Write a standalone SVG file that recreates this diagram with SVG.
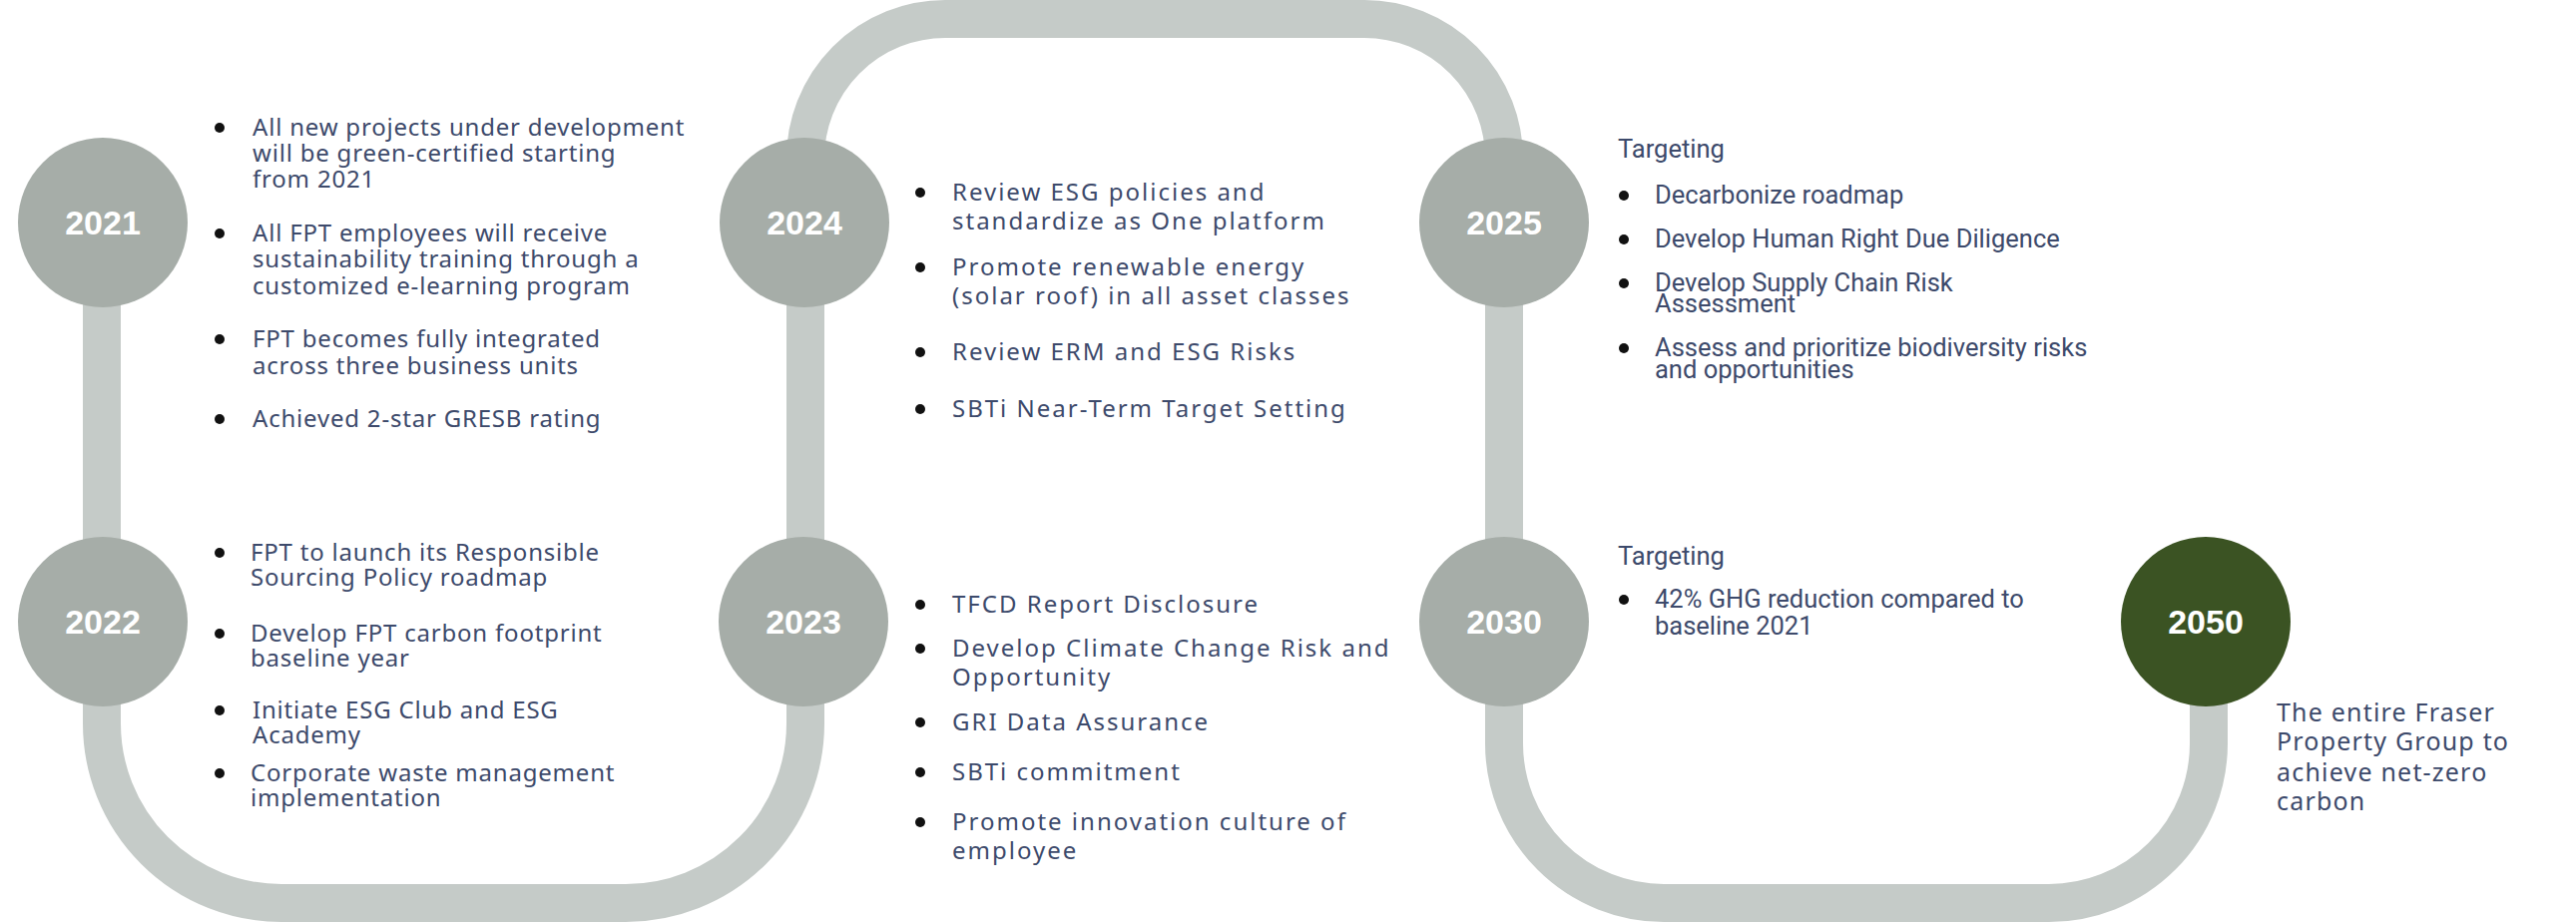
<svg xmlns="http://www.w3.org/2000/svg" width="2581" height="925" viewBox="0 0 2581 925">
<style>
.trk{fill:none;stroke:#c5cbc8;stroke-width:38}
.c{fill:#a6ada8}
.y{fill:#fff;font-family:"Liberation Sans",Arial,sans-serif;font-weight:bold;font-size:34px;text-anchor:middle}
.a{fill:#3d4a6b;font-family:"Noto Sans",sans-serif;font-size:24px;letter-spacing:0.8px}
.b{fill:#3d4a6b;font-family:"Noto Sans",sans-serif;font-size:24px;letter-spacing:2px}
.r{fill:#3d4a6b;font-family:Roboto,"Noto Sans",sans-serif;font-size:25.5px}
.w{fill:#3d4a6b;font-family:"Noto Sans",sans-serif;font-size:25px;letter-spacing:1.2px}
.d{fill:#111}
</style>
<g id="connectors">
<path class="trk" d="M102,223 V725 A180,180 0 0 0 282,905 H627 A180,180 0 0 0 807,725 V160 A140,140 0 0 1 947,19 H1367 A140,140 0 0 1 1507,160 V745 A160,160 0 0 0 1667,905 H2053 A160,160 0 0 0 2213,745 V623"/>
</g>
<g id="n2021"><circle class="c" cx="103" cy="223" r="85"/><text class="y" x="103" y="235">2021</text>
<g class="d"><circle cx="220" cy="128" r="5"/><circle cx="220" cy="234" r="5"/><circle cx="220" cy="340" r="5"/><circle cx="220" cy="420" r="5"/></g>
<text class="a"><tspan x="253" y="136">All new projects under development</tspan><tspan x="253" y="162">will be green-certified starting</tspan><tspan x="253" y="188">from 2021</tspan><tspan x="253" y="242">All FPT employees will receive</tspan><tspan x="253" y="268">sustainability training through a</tspan><tspan x="253" y="295">customized e-learning program</tspan><tspan x="253" y="348">FPT becomes fully integrated</tspan><tspan x="253" y="375">across three business units</tspan><tspan x="253" y="428">Achieved 2-star GRESB rating</tspan></text></g>
<g id="n2022"><circle class="c" cx="103" cy="623" r="85"/><text class="y" x="103" y="635">2022</text>
<g class="d"><circle cx="220" cy="554" r="5"/><circle cx="220" cy="635" r="5"/><circle cx="220" cy="712" r="5"/><circle cx="220" cy="775" r="5"/></g>
<text class="a"><tspan x="251" y="562">FPT to launch its Responsible</tspan><tspan x="251" y="587">Sourcing Policy roadmap</tspan><tspan x="251" y="643">Develop FPT carbon footprint</tspan><tspan x="251" y="668">baseline year</tspan><tspan x="253" y="720">Initiate ESG Club and ESG</tspan><tspan x="253" y="745">Academy</tspan><tspan x="251" y="783">Corporate waste management</tspan><tspan x="251" y="808">implementation</tspan></text></g>
<g id="n2024"><circle class="c" cx="806" cy="223" r="85"/><text class="y" x="806" y="235">2024</text>
<g class="d"><circle cx="922" cy="193" r="5"/><circle cx="922" cy="268" r="5"/><circle cx="922" cy="353" r="5"/><circle cx="922" cy="410" r="5"/></g>
<text class="b"><tspan x="954" y="201">Review ESG policies and</tspan><tspan x="954" y="230">standardize as One platform</tspan><tspan x="954" y="276">Promote renewable energy</tspan><tspan x="954" y="305">(solar roof) in all asset classes</tspan><tspan x="954" y="361">Review ERM and ESG Risks</tspan><tspan x="954" y="418">SBTi Near-Term Target Setting</tspan></text></g>
<g id="n2023"><circle class="c" cx="805" cy="623" r="85"/><text class="y" x="805" y="635">2023</text>
<g class="d"><circle cx="922" cy="606" r="5"/><circle cx="922" cy="650" r="5"/><circle cx="922" cy="724" r="5"/><circle cx="922" cy="774" r="5"/><circle cx="922" cy="824" r="5"/></g>
<text class="b"><tspan x="954" y="614">TFCD Report Disclosure</tspan><tspan x="954" y="658">Develop Climate Change Risk and</tspan><tspan x="954" y="687">Opportunity</tspan><tspan x="954" y="732">GRI Data Assurance</tspan><tspan x="954" y="782">SBTi commitment</tspan><tspan x="954" y="832">Promote innovation culture of</tspan><tspan x="954" y="861">employee</tspan></text></g>
<g id="n2025"><circle class="c" cx="1507" cy="223" r="85"/><text class="y" x="1507" y="235">2025</text>
<g class="d"><circle cx="1627" cy="196" r="5"/><circle cx="1627" cy="240" r="5"/><circle cx="1627" cy="284" r="5"/><circle cx="1627" cy="349" r="5"/></g>
<text class="r"><tspan x="1621" y="158">Targeting</tspan><tspan x="1658" y="204">Decarbonize roadmap</tspan><tspan x="1658" y="248">Develop Human Right Due Diligence</tspan><tspan x="1658" y="292">Develop Supply Chain Risk</tspan><tspan x="1658" y="313">Assessment</tspan><tspan x="1658" y="357">Assess and prioritize biodiversity risks</tspan><tspan x="1658" y="379">and opportunities</tspan></text></g>
<g id="n2030"><circle class="c" cx="1507" cy="623" r="85"/><text class="y" x="1507" y="635">2030</text>
<circle class="d" cx="1627" cy="601" r="5"/>
<text class="r"><tspan x="1621" y="566">Targeting</tspan><tspan x="1658" y="609">42% GHG reduction compared to</tspan><tspan x="1658" y="636">baseline 2021</tspan></text></g>
<g id="n2050"><circle cx="2210" cy="623" r="85" fill="#3b5323"/><text class="y" x="2210" y="635">2050</text>
<text class="w"><tspan x="2281" y="723">The entire Fraser</tspan><tspan x="2281" y="752">Property Group to</tspan><tspan x="2281" y="783">achieve net-zero</tspan><tspan x="2281" y="812">carbon</tspan></text></g>
</svg>
